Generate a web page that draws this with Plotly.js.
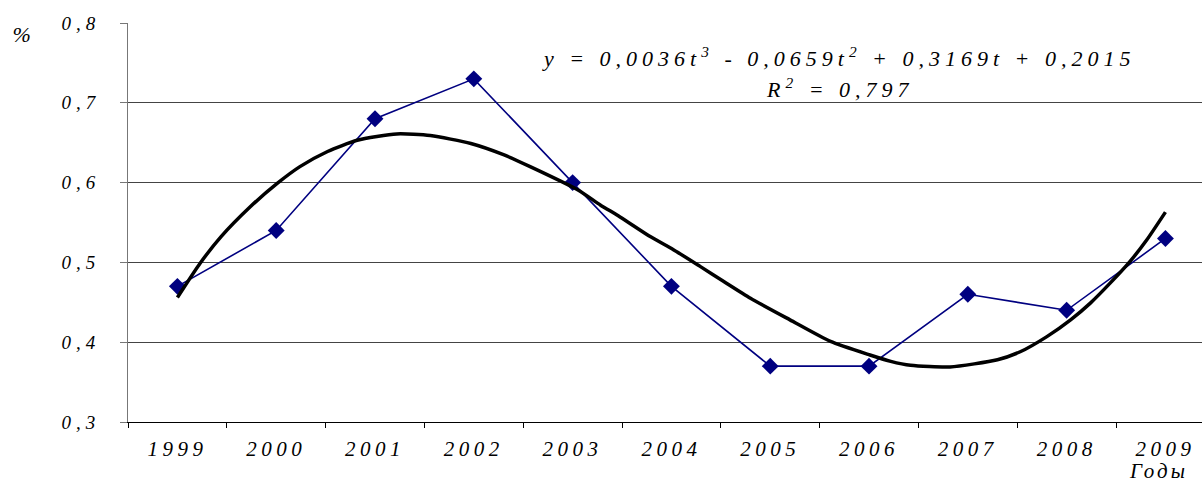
<!DOCTYPE html>
<html>
<head>
<meta charset="utf-8">
<script src="https://cdn.plot.ly/plotly-3.0.1.min.js"></script>
<style>
html,body{margin:0;padding:0;background:#fff;overflow:hidden;}
#chart{width:1202px;height:481px;}
#chart svg text{font-family:'Liberation Serif','Times New Roman',serif !important;}
#chart .xtick text{letter-spacing:4.5px;}
#chart .ytick text{letter-spacing:5px;}
#chart .annotation-text{letter-spacing:5px;}
#chart .annotation[data-index="1"] .annotation-text{letter-spacing:3px;}
</style>
</head>
<body>
<div id="chart"></div>
<script>
// Data
const years = [1999, 2000, 2001, 2002, 2003, 2004, 2005, 2006, 2007, 2008, 2009];
const values = [0.47, 0.54, 0.68, 0.73, 0.60, 0.47, 0.37, 0.37, 0.46, 0.44, 0.53];

// Polynomial trend line as drawn in the picture
const trendX = [1999.0, 1999.23, 1999.44, 1999.74, 2000.01, 2000.24, 2000.52, 2000.82, 2001.22, 2001.56, 2001.97, 2002.30, 2002.57, 2003.05, 2003.28, 2003.48, 2003.79, 2004.02, 2004.29, 2004.53, 2004.80, 2005.20, 2005.61, 2006.01, 2006.22, 2006.42, 2006.82, 2007.30, 2007.53, 2007.80, 2008.04, 2008.24, 2008.44, 2008.64, 2008.81, 2009.0];
const trendY = [0.456, 0.499, 0.532, 0.570, 0.599, 0.620, 0.639, 0.653, 0.661, 0.659, 0.649, 0.635, 0.620, 0.591, 0.572, 0.557, 0.532, 0.516, 0.495, 0.476, 0.455, 0.428, 0.401, 0.384, 0.376, 0.371, 0.369, 0.378, 0.388, 0.407, 0.428, 0.449, 0.474, 0.501, 0.528, 0.563];

const yTicks = [0.3, 0.4, 0.5, 0.6, 0.7, 0.8];
const equationText = 'y = 0,0036t<sup>3</sup> - 0,0659t<sup>2</sup> + 0,3169t + 0,2015';
const r2Text = 'R<sup>2</sup> = 0,797';
const yUnit = '%';
const xUnit = 'Годы';

const serif = 'Liberation Serif';

const traces = [
  {
    x: years, y: values, type: 'scatter', mode: 'lines+markers',
    line: {color: '#000080', width: 1.6},
    marker: {symbol: 'diamond', size: 13, color: '#000080'},
    hoverinfo: 'skip'
  },
  {
    x: trendX, y: trendY, type: 'scatter', mode: 'lines',
    line: {color: '#000000', width: 3.5, shape: 'spline', smoothing: 0.6},
    hoverinfo: 'skip'
  }
];

const layout = {
  width: 1202, height: 481,
  margin: {l: 128, r: 0, t: 23, b: 59, pad: 0},
  paper_bgcolor: '#ffffff', plot_bgcolor: '#ffffff',
  showlegend: false,
  font: {family: serif, color: '#000', size: 19},
  xaxis: {
    type: 'linear',
    range: [1998.5, 2009.37],
    tickmode: 'array', tickvals: years, ticktext: years.map(String),
    ticks: '', showgrid: false, zeroline: false,
    showline: true, linecolor: '#000', linewidth: 1,
    tickfont: {family: serif, size: 21, color: '#000', style: 'italic'},
    ticklabelstandoff: 8,
    minor: {tick0: 1998.5, dtick: 1, ticks: 'outside', ticklen: 5, tickcolor: '#000', tickwidth: 1, showgrid: false},
    fixedrange: true
  },
  yaxis: {
    range: [0.3, 0.8],
    tickmode: 'array', tickvals: yTicks, ticktext: yTicks.map(v => v.toFixed(1).replace('.', ',')),
    ticks: 'outside', ticklen: 7, tickcolor: '#777', tickwidth: 1,
    showgrid: true, gridcolor: '#444', gridwidth: 1,
    zeroline: false, showline: true, linecolor: '#777', linewidth: 1,
    tickfont: {family: serif, size: 19, color: '#000', style: 'italic'},
    ticklabelstandoff: 16,
    fixedrange: true
  },
  annotations: [
    {xref: 'paper', yref: 'paper', x: (24 - 128) / 1074, y: (422 - 34) / 399, text: yUnit, showarrow: false,
     font: {family: serif, size: 22, style: 'italic', color: '#000'}, xanchor: 'center', yanchor: 'middle'},
    {xref: 'paper', yref: 'paper', x: (1158 - 128) / 1074, y: (422 - 471) / 399, text: xUnit, showarrow: false,
     font: {family: serif, size: 21, style: 'italic', color: '#000'}, xanchor: 'center', yanchor: 'middle'},
    {xref: 'paper', yref: 'paper', x: (838 - 128) / 1074, y: (422 - 57) / 399, text: equationText, showarrow: false,
     font: {family: serif, size: 22, style: 'italic', color: '#000'}, xanchor: 'center', yanchor: 'middle'},
    {xref: 'paper', yref: 'paper', x: (840 - 128) / 1074, y: (422 - 88) / 399, text: r2Text, showarrow: false,
     font: {family: serif, size: 22, style: 'italic', color: '#000'}, xanchor: 'center', yanchor: 'middle'}
  ]
};

Plotly.newPlot('chart', traces, layout, {displayModeBar: false});
</script>
</body>
</html>
